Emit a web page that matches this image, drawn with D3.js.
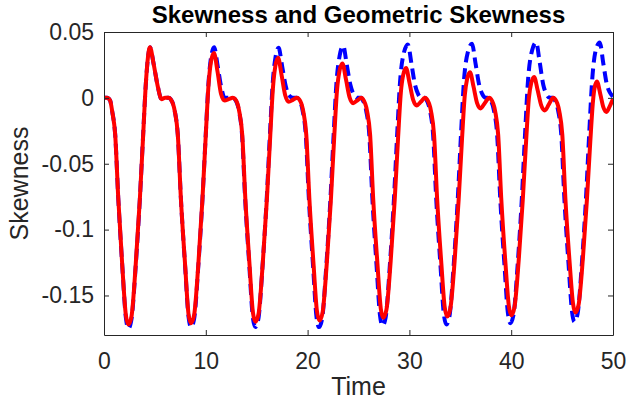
<!DOCTYPE html>
<html>
<head>
<meta charset="utf-8">
<script src="https://cdn.jsdelivr.net/npm/d3@7"></script>
<style>
  body { margin: 0; background: #fff; }
  text { font-family: "Liberation Sans", Arial, Helvetica, sans-serif; }
</style>
</head>
<body>
<div id="chart"></div>
<script>
// values
const xTicks = [0, 10, 20, 30, 40, 50];
const yTicks = [0.05, 0, -0.05, -0.1, -0.15];
const yTickLabels = ["0.05", "0", "-0.05", "-0.1", "-0.15"];

// skewness (blue dashed)
const skewTime = [
  0, 0.3, 0.6, 0.8, 1.1, 1.4, 1.8, 2.15, 2.4, 2.7, 3.12, 3.52, 3.85, 4.12, 4.52, 4.87, 5.3, 5.65, 6.0, 6.35,
  6.55, 6.95, 7.25, 7.55, 7.97, 8.3, 8.55, 8.85, 9.27, 9.67, 10.0, 10.27, 10.52, 10.82, 11.17, 11.52, 11.85, 12.25, 12.65,
  12.86, 13.26, 13.56, 13.86, 14.28, 14.61, 14.86, 15.16, 15.58, 15.98, 16.31, 16.58, 16.85, 17.15, 17.5, 17.85, 18.15, 18.55, 18.95,
  19.12, 19.52, 19.82, 20.12, 20.54, 20.87, 21.12, 21.42, 21.84, 22.24, 22.57, 22.84, 23.15, 23.5, 23.85, 24.2, 24.5, 24.9, 25.27,
  25.36, 25.76, 26.06, 26.36, 26.78, 27.11, 27.36, 27.66, 28.08, 28.48, 28.81, 29.08, 29.45, 29.85, 30.2, 30.55, 30.85, 31.2, 31.52,
  31.63, 32.03, 32.33, 32.63, 33.05, 33.38, 33.63, 33.93, 34.35, 34.75, 35.08, 35.35, 35.75, 36.15, 36.5, 36.85, 37.15, 37.5, 37.85,
  37.92, 38.32, 38.62, 38.92, 39.34, 39.67, 39.92, 40.22, 40.64, 41.04, 41.37, 41.64, 42.05, 42.45, 42.8, 43.15, 43.45, 43.8, 44.12,
  44.22, 44.62, 44.92, 45.22, 45.64, 45.97, 46.22, 46.52, 46.94, 47.34, 47.67, 47.94, 48.3, 48.7, 49.05, 49.4, 49.7, 50.0
];
const skewValues = [
  0, 0, -0.002, -0.01, -0.028, -0.076, -0.128, -0.167, -0.175, -0.168, -0.127, -0.077, -0.027, 0.012, 0.0385, 0.026, 0.008, -0.001, 0, 0,
  -0.001, -0.01, -0.028, -0.076, -0.128, -0.166, -0.174, -0.168, -0.127, -0.077, -0.027, 0.012, 0.031, 0.0385, 0.024, 0.008, 0, 0, 0,
  -0.001, -0.01, -0.028, -0.076, -0.128, -0.166, -0.174, -0.168, -0.127, -0.077, -0.026, 0.012, 0.031, 0.038, 0.024, 0.009, 0.002, 0, 0,
  -0.001, -0.01, -0.028, -0.076, -0.128, -0.166, -0.174, -0.168, -0.127, -0.077, -0.026, 0.012, 0.032, 0.0395, 0.025, 0.01, 0.003, 0, 0,
  -0.001, -0.01, -0.028, -0.076, -0.128, -0.165, -0.173, -0.167, -0.127, -0.077, -0.026, 0.012, 0.034, 0.0405, 0.026, 0.01, 0.003, 0, 0,
  -0.001, -0.01, -0.028, -0.076, -0.127, -0.164, -0.172, -0.166, -0.127, -0.077, -0.026, 0.012, 0.035, 0.041, 0.026, 0.01, 0.003, 0, 0,
  -0.001, -0.01, -0.028, -0.076, -0.127, -0.163, -0.171, -0.165, -0.126, -0.077, -0.026, 0.012, 0.036, 0.042, 0.027, 0.01, 0.003, 0, 0,
  -0.001, -0.01, -0.028, -0.076, -0.127, -0.162, -0.17, -0.164, -0.126, -0.077, -0.026, 0.012, 0.036, 0.042, 0.026, 0.01, 0.004, 0.001
];

// geometric skewness (red solid)
const geoTime = [
  0, 0.3, 0.6, 0.8, 1.1, 1.4, 1.8, 2.15, 2.4, 2.7, 3.12, 3.52, 3.85, 4.12, 4.52, 4.87, 5.3, 5.65, 6.0, 6.35,
  6.55, 6.95, 7.25, 7.55, 7.97, 8.3, 8.55, 8.85, 9.27, 9.67, 10.0, 10.27, 10.5, 10.8, 11.15, 11.5, 11.85, 12.25, 12.65,
  12.88, 13.28, 13.58, 13.88, 14.3, 14.63, 14.88, 15.18, 15.6, 16.0, 16.33, 16.6, 16.83, 17.1, 17.45, 17.8, 18.15, 18.55, 18.95,
  19.17, 19.57, 19.87, 20.17, 20.59, 20.92, 21.17, 21.47, 21.89, 22.29, 22.62, 22.89, 23.12, 23.42, 23.77, 24.12, 24.47, 24.87, 25.27,
  25.44, 25.84, 26.14, 26.44, 26.86, 27.19, 27.44, 27.74, 28.16, 28.56, 28.89, 29.16, 29.38, 29.67, 30.02, 30.37, 30.72, 31.12, 31.52,
  31.72, 32.12, 32.42, 32.72, 33.14, 33.47, 33.72, 34.02, 34.44, 34.84, 35.17, 35.44, 35.66, 35.95, 36.3, 36.65, 37.0, 37.4, 37.85,
  38.02, 38.42, 38.72, 39.02, 39.44, 39.77, 40.02, 40.32, 40.74, 41.14, 41.47, 41.74, 41.96, 42.25, 42.6, 42.95, 43.3, 43.7, 44.12,
  44.32, 44.72, 45.02, 45.32, 45.74, 46.07, 46.32, 46.62, 47.04, 47.44, 47.77, 48.04, 48.2, 48.42, 48.75, 49.05, 49.37, 49.7, 50.0
];
const geoValues = [
  0, 0, -0.002, -0.01, -0.028, -0.076, -0.128, -0.165, -0.172, -0.166, -0.126, -0.077, -0.028, 0.012, 0.0385, 0.026, 0.008, -0.001, 0, 0,
  -0.001, -0.01, -0.028, -0.076, -0.127, -0.164, -0.171, -0.165, -0.126, -0.077, -0.028, 0.01, 0.027, 0.034, 0.02, 0.003, -0.002, -0.001, 0,
  -0.001, -0.01, -0.028, -0.076, -0.127, -0.163, -0.17, -0.164, -0.125, -0.077, -0.029, 0.008, 0.024, 0.0305, 0.017, 0.002, -0.003, -0.0015, 0,
  -0.001, -0.01, -0.028, -0.076, -0.127, -0.162, -0.169, -0.163, -0.125, -0.077, -0.029, 0.006, 0.02, 0.026, 0.014, 0.0005, -0.004, -0.002, 0,
  -0.001, -0.01, -0.028, -0.076, -0.126, -0.16, -0.167, -0.161, -0.124, -0.077, -0.03, 0.004, 0.017, 0.0226, 0.011, -0.0015, -0.0057, -0.003, 0,
  -0.001, -0.01, -0.028, -0.076, -0.126, -0.159, -0.166, -0.16, -0.124, -0.077, -0.031, 0.002, 0.014, 0.0195, 0.0085, -0.004, -0.008, -0.004, 0,
  -0.001, -0.01, -0.028, -0.076, -0.126, -0.158, -0.165, -0.159, -0.123, -0.077, -0.032, 0, 0.011, 0.0158, 0.0057, -0.0057, -0.0095, -0.005, 0,
  -0.001, -0.01, -0.028, -0.076, -0.125, -0.156, -0.163, -0.157, -0.122, -0.077, -0.033, -0.002, 0.008, 0.0125, 0.003, -0.007, -0.0107, -0.006, -0.001
];

const titleText = "Skewness and Geometric Skewness";
const xLabel = "Time";
const yLabel = "Skewness";

// set the dimensions and margins of the graph
const margin = {top: 32, right: 13, bottom: 69, left: 104},
    width = 626 - margin.left - margin.right,
    height = 404 - margin.top - margin.bottom;

const svg = d3.select("#chart")
  .append("svg")
    .attr("width", width + margin.left + margin.right)
    .attr("height", height + margin.top + margin.bottom)
  .append("g")
    .attr("transform", `translate(${margin.left},${margin.top})`);

const x = d3.scaleLinear().domain([0, 50]).range([0, width]);
const y = d3.scaleLinear().domain([-0.18, 0.05]).range([height, 0]);

const axisColor = "#262626";

// clip the curves to the axes box
svg.append("clipPath").attr("id", "plotclip")
  .append("rect").attr("width", width).attr("height", height);

const line = d3.line()
  .x(d => x(d[0]))
  .y(d => y(d[1]))
  .curve(d3.curveMonotoneX);

const skewData = skewTime.map((t, i) => [t, skewValues[i]]);
const geoData = geoTime.map((t, i) => [t, geoValues[i]]);

svg.append("path")
  .datum(skewData)
  .attr("clip-path", "url(#plotclip)")
  .attr("fill", "none")
  .attr("stroke", "#0000ff")
  .attr("stroke-width", 4)
  .attr("stroke-dasharray", "11,6")
  .attr("d", line);

svg.append("path")
  .datum(geoData)
  .attr("clip-path", "url(#plotclip)")
  .attr("fill", "none")
  .attr("stroke", "#ff0000")
  .attr("stroke-width", 4)
  .attr("d", line);

// axes, ticks pointing inward like matlab
const xAxis = svg.append("g")
  .attr("transform", `translate(0,${height})`)
  .call(d3.axisBottom(x).tickValues(xTicks).tickSizeInner(-5).tickSizeOuter(0).tickPadding(18).tickFormat(d3.format("d")));
const xTop = svg.append("g")
  .call(d3.axisTop(x).tickValues(xTicks).tickSizeInner(-5).tickSizeOuter(0).tickFormat(""));
const yAxis = svg.append("g")
  .call(d3.axisLeft(y).tickValues(yTicks).tickSizeInner(-5).tickSizeOuter(0).tickPadding(10)
    .tickFormat((d, i) => yTickLabels[i]));
const yRight = svg.append("g")
  .attr("transform", `translate(${width},0)`)
  .call(d3.axisRight(y).tickValues(yTicks).tickSizeInner(-5).tickSizeOuter(0).tickFormat(""));

[xAxis, xTop, yAxis, yRight].forEach(g => {
  g.selectAll("path").attr("stroke", axisColor).attr("stroke-width", 1);
  g.selectAll("line").attr("stroke", axisColor).attr("stroke-width", 1);
  g.selectAll("text").attr("fill", axisColor).style("font-size", "23px")
    .style("font-family", "'Liberation Sans', Arial, sans-serif");
});

// labels
svg.append("text")
  .attr("x", width / 2)
  .attr("y", height + 60)
  .attr("text-anchor", "middle")
  .attr("fill", axisColor)
  .style("font-size", "25px")
  .text(xLabel);

svg.append("text")
  .attr("transform", `translate(${-76},${height / 2}) rotate(-90)`)
  .attr("text-anchor", "middle")
  .attr("fill", axisColor)
  .style("font-size", "25px")
  .text(yLabel);

svg.append("text")
  .attr("x", width / 2)
  .attr("y", -9)
  .attr("text-anchor", "middle")
  .attr("fill", "#000")
  .style("font-size", "24px")
  .style("font-weight", "bold")
  .text(titleText);
</script>
</body>
</html>
